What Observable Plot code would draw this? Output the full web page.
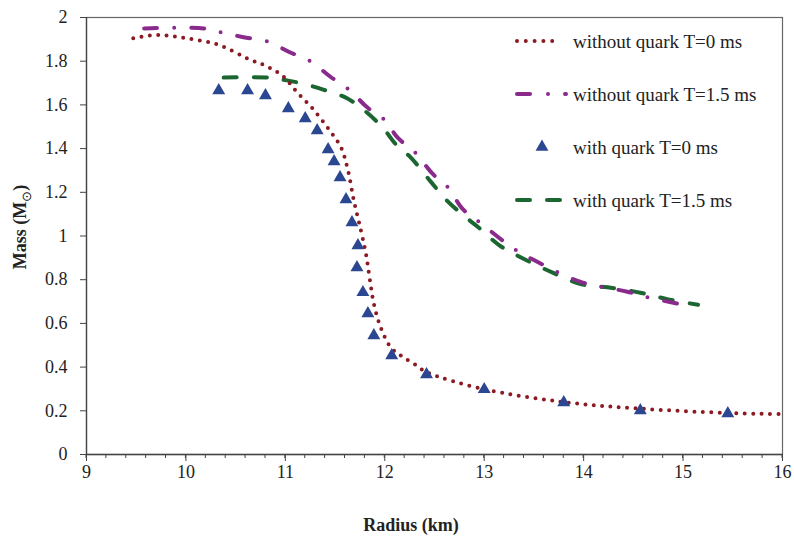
<!DOCTYPE html>
<html>
<head>
<meta charset="utf-8">
<script src="https://cdn.jsdelivr.net/npm/d3@7"></script>
<script src="https://cdn.jsdelivr.net/npm/@observablehq/plot@0.6"></script>
<style>
  html, body { margin: 0; padding: 0; background: #fff; }
  #chart { width: 794px; height: 536px; }
</style>
</head>
<body>
<div id="chart"></div>
<script>
// Without quark, T = 0 ms
const radiusNoQuarkT0 = [9.47, 9.72, 10.0, 10.32, 10.63, 10.82, 10.98, 11.12, 11.28, 11.45, 11.56, 11.63, 11.69, 11.76, 11.81, 11.85, 11.89, 11.96, 12.06, 12.16, 12.29, 12.43, 12.99, 13.80, 14.57, 15.45, 16.0];
const massNoQuarkT0   = [1.905, 1.92, 1.905, 1.876, 1.81, 1.775, 1.73, 1.657, 1.58, 1.48, 1.405, 1.30, 1.16, 1.025, 0.92, 0.80, 0.69, 0.58, 0.49, 0.453, 0.416, 0.375, 0.30, 0.24, 0.21, 0.19, 0.185];

// Without quark, T = 1.5 ms
const radiusNoQuarkT15 = [9.58, 10.18, 10.37, 10.58, 10.82, 11.05, 11.25, 11.45, 11.64, 11.82, 12.0, 12.13, 12.31, 12.48, 12.64, 12.78, 12.96, 13.32, 13.5, 13.97, 14.44, 14.64, 14.95];
const massNoQuarkT15   = [1.95, 1.95, 1.93, 1.91, 1.89, 1.84, 1.80, 1.73, 1.67, 1.59, 1.53, 1.45, 1.38, 1.285, 1.22, 1.125, 1.06, 0.935, 0.89, 0.79, 0.745, 0.72, 0.69];

// With quark, T = 0 ms (markers)
const radiusQuarkT0 = [10.33, 10.62, 10.80, 11.03, 11.20, 11.32, 11.43, 11.49, 11.55, 11.61, 11.67, 11.73, 11.72, 11.78, 11.83, 11.89, 12.07, 12.42, 13.0, 13.8, 14.57, 15.45];
const massQuarkT0   = [1.666, 1.666, 1.643, 1.584, 1.538, 1.483, 1.396, 1.341, 1.268, 1.167, 1.062, 0.957, 0.856, 0.742, 0.645, 0.545, 0.453, 0.366, 0.298, 0.238, 0.201, 0.188];

// With quark, T = 1.5 ms
const radiusQuarkT15 = [10.38, 10.85, 10.98, 11.15, 11.38, 11.62, 11.82, 11.99, 12.11, 12.26, 12.46, 12.63, 12.83, 12.94, 13.16, 13.4, 13.7, 13.97, 14.24, 14.57, 14.85, 15.15];
const massQuarkT15   = [1.725, 1.725, 1.715, 1.70, 1.67, 1.63, 1.565, 1.49, 1.42, 1.36, 1.25, 1.16, 1.08, 1.04, 0.955, 0.895, 0.83, 0.78, 0.765, 0.74, 0.71, 0.685];

const xTicks = [9, 10, 11, 12, 13, 14, 15, 16];
const xMinorTicks = d3.range(45, 81).map(v => v / 5);
const yTicks = [0, 0.2, 0.4, 0.6, 0.8, 1, 1.2, 1.4, 1.6, 1.8, 2];

const legendLabels = ["without quark T=0 ms", "without quark T=1.5 ms", "with quark T=0 ms", "with quark T=1.5 ms"];
const xTitle = "Radius (km)";
const yTitle = "Mass (M";
const ySub = "\u2299";

const toRows = (xs, ys) => xs.map((x, i) => ({r: x, m: ys[i]}));
const fmt = d => String(+d.toFixed(1));

const C_RED = "#8b1a22", C_PURPLE = "#8a2a8c", C_BLUE = "#2c4791", C_GREEN = "#1b6631";

const svg = Plot.plot({
  width: 794,
  height: 536,
  marginTop: 17,
  marginRight: 12,
  marginBottom: 82,
  marginLeft: 86,
  style: {fontFamily: "'Liberation Serif', 'Times New Roman', serif", fontSize: "18px", color: "#333", background: "#fff"},
  x: {domain: [9, 16]},
  y: {domain: [0, 2]},
  marks: [
    Plot.frame({stroke: "#666", strokeWidth: 1.2}),
    Plot.axisX({ticks: xTicks, tickSize: 7, tickPadding: 4, tickFormat: fmt, label: null, stroke: "#444", fill: "#222"}),
    Plot.axisY({ticks: yTicks, tickSize: 6, tickPadding: 13, tickFormat: fmt, label: null, stroke: "#444", fill: "#222"}),
    Plot.ruleX([9], {stroke: "#444", strokeWidth: 1.3}),
    Plot.ruleY([0], {stroke: "#444", strokeWidth: 1.3}),
    Plot.line(toRows(radiusQuarkT15, massQuarkT15), {x: "r", y: "m", stroke: C_GREEN, strokeWidth: 4, strokeDasharray: "13 17", strokeLinecap: "round", curve: "catmull-rom"}),
    Plot.line(toRows(radiusNoQuarkT15, massNoQuarkT15), {x: "r", y: "m", stroke: C_PURPLE, strokeWidth: 4, strokeDasharray: "13 17 0 17", strokeLinecap: "round", curve: "catmull-rom"}),
    Plot.line(toRows(radiusNoQuarkT0, massNoQuarkT0), {x: "r", y: "m", stroke: C_RED, strokeWidth: 4, strokeDasharray: "0 8.4", strokeLinecap: "round", curve: "catmull-rom"}),
    Plot.dot(toRows(radiusQuarkT0, massQuarkT0), {x: "r", y: "m", symbol: "triangle", r: 4.8, fill: C_BLUE, stroke: "none"})
  ]
});

const root = d3.select(svg);
const xs = svg.scale("x"), ys = svg.scale("y");

// Minor x ticks (through the plot's x scale)
const y0 = ys.apply(0);
root.append("g").attr("stroke", "#444").attr("stroke-width", 1)
  .selectAll("line").data(xMinorTicks).join("line")
  .attr("x1", d => xs.apply(d)).attr("x2", d => xs.apply(d))
  .attr("y1", y0).attr("y2", y0 + 4);

// Axis titles
root.append("text")
  .attr("x", 411).attr("y", 531)
  .attr("text-anchor", "middle")
  .attr("font-weight", "bold").attr("font-size", 18).attr("fill", "#222")
  .text(xTitle);

const yt = root.append("text")
  .attr("transform", "translate(26,227) rotate(-90)")
  .attr("text-anchor", "middle")
  .attr("font-weight", "bold").attr("font-size", 18).attr("fill", "#222");
yt.append("tspan").text(yTitle);
yt.append("tspan").attr("dy", 5).attr("font-size", 13).attr("font-weight", "normal").text(ySub);
yt.append("tspan").attr("dy", -5).text(")");

// Legend
const legendY = [41, 94, 147, 200];
const lg = root.append("g").attr("text-anchor", "start");
lg.append("line").attr("x1", 517).attr("x2", 561).attr("y1", legendY[0]).attr("y2", legendY[0])
  .attr("stroke", C_RED).attr("stroke-width", 4).attr("stroke-linecap", "round").attr("stroke-dasharray", "0 8.8");
lg.append("line").attr("x1", 517).attr("x2", 566).attr("y1", legendY[1]).attr("y2", legendY[1])
  .attr("stroke", C_PURPLE).attr("stroke-width", 4).attr("stroke-linecap", "round").attr("stroke-dasharray", "13 18 0 17");
lg.append("path").attr("d", d3.symbol(d3.symbolTriangle, Math.PI * 4.8 * 4.8)()).attr("transform", `translate(542,${legendY[2]})`)
  .attr("fill", C_BLUE);
lg.append("line").attr("x1", 517).attr("x2", 561).attr("y1", legendY[3]).attr("y2", legendY[3])
  .attr("stroke", C_GREEN).attr("stroke-width", 4).attr("stroke-linecap", "round").attr("stroke-dasharray", "13 17");
legendLabels.forEach((t, i) => {
  lg.append("text").attr("x", 573).attr("y", legendY[i]).attr("dy", "0.35em")
    .attr("text-anchor", "start")
    .attr("font-size", 19).attr("fill", "#222").text(t);
});

document.getElementById("chart").appendChild(svg);
</script>
</body>
</html>
